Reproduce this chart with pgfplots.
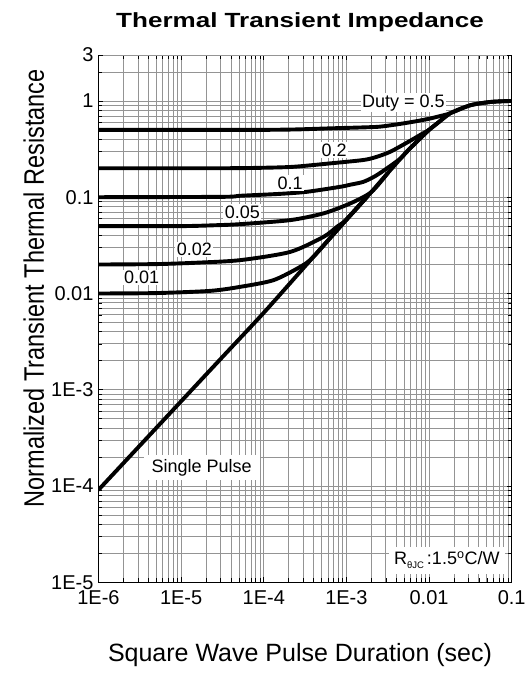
\documentclass[border=0pt]{standalone}
\usepackage{graphicx}
\usepackage{fontspec}
\setmainfont{Liberation Sans}
\usepackage{pgfplots}
\pgfplotsset{compat=1.18}
\tikzset{lbl/.style={fill=white, inner sep=1.5pt, font=\fontsize{18}{18}\selectfont},
         crv/.style={black, line width=3.9pt, line join=round, line cap=round, mark=none, smooth, tension=0.45}}
\begin{document}
\begin{tikzpicture}
\useasboundingbox (-98.5pt,-90.7pt) rectangle (432.5pt,582.3pt);
\begin{axis}[
  at={(0pt,0pt)}, anchor=south west,
  scale only axis, width=413.2pt, height=527.3pt,
  xmode=log, ymode=log,
  xmin=1e-6, xmax=0.1, ymin=1e-5, ymax=3,
  xtick={1e-6,1e-5,1e-4,1e-3,1e-2,1e-1},
  xticklabels={1E-6,1E-5,1E-4,1E-3,0.01,0.1},
  ytick={1e-5,1e-4,1e-3,1e-2,1e-1,1},
  yticklabels={1E-5,1E-4,1E-3,0.01,0.1,1},
  extra y ticks={3}, extra y tick labels={3},
  minor xtick={2e-6,3e-6,4e-6,5e-6,6e-6,7e-6,8e-6,9e-6,
               2e-5,3e-5,4e-5,5e-5,6e-5,7e-5,8e-5,9e-5,
               2e-4,3e-4,4e-4,5e-4,6e-4,7e-4,8e-4,9e-4,
               2e-3,3e-3,4e-3,5e-3,6e-3,7e-3,8e-3,9e-3,
               2e-2,3e-2,4e-2,5e-2,6e-2,7e-2,8e-2,9e-2},
  minor ytick={2e-5,3e-5,4e-5,5e-5,6e-5,7e-5,8e-5,9e-5,
               2e-4,3e-4,4e-4,5e-4,6e-4,7e-4,8e-4,9e-4,
               2e-3,3e-3,4e-3,5e-3,6e-3,7e-3,8e-3,9e-3,
               2e-2,3e-2,4e-2,5e-2,6e-2,7e-2,8e-2,9e-2,
               0.2,0.3,0.4,0.5,0.6,0.7,0.8,0.9,2},
  grid=both,
  major grid style={black!42, line width=0.7pt},
  minor grid style={black!42, line width=0.7pt},
  axis line style={black, line width=0.8pt},
  tick style={black, line width=0.6pt},
  major tick length=5pt, minor tick length=4pt,
  /pgf/number format/assume math mode=true,
  ticklabel style={font=\fontsize{20}{20}\selectfont},
  yticklabel style={xshift=-1.5pt},
  xticklabel style={yshift=-5pt},
]
% Single pulse
\addplot[crv] coordinates {(1e-6,9.12e-5) (3.162e-6,2.63e-4) (1e-5,7.59e-4) (3.162e-5,2.19e-3)
 (1e-4,6.31e-3) (3.162e-4,0.0192) (3.98e-4,0.0240) (1e-3,0.0585) (1.778e-3,0.101)
 (2.0e-3,0.113) (3.162e-3,0.178) (5.623e-3,0.309) (1e-2,0.501) (1.259e-2,0.586)
 (1.778e-2,0.741) (3.162e-2,0.902) (5.623e-2,0.977) (0.1,1.0)};
% D = 0.01
\addplot[crv] coordinates {(1e-6,0.01) (5.01e-6,0.0101) (2.24e-5,0.01064) (5.19e-5,0.01172)
 (1.306e-4,0.01374) (2.75e-4,0.01888) (3.98e-4,0.0240) (1e-3,0.0585) (1.778e-3,0.101)};
% D = 0.02
\addplot[crv] coordinates {(1e-6,0.02) (5.01e-6,0.0202) (1.585e-5,0.0209) (5.19e-5,0.0222)
 (2.08e-4,0.0270) (5.27e-4,0.0387) (7.66e-4,0.0492) (1e-3,0.0585) (1.778e-3,0.101)};
% D = 0.05
\addplot[crv] coordinates {(1e-6,0.05) (1e-5,0.0501) (2.51e-5,0.0511) (5.19e-5,0.0525)
 (2.08e-4,0.0578) (5.27e-4,0.0679) (1.109e-3,0.0861) (2.0e-3,0.113) (3.162e-3,0.178)};
% D = 0.1
\addplot[crv] coordinates {(1e-6,0.1) (3.162e-5,0.1009) (5.19e-5,0.1035) (1.585e-4,0.1084)
 (3.32e-4,0.1138) (8.4e-4,0.1282) (1.12e-3,0.135) (1.607e-3,0.1445) (2.24e-3,0.166)
 (3.08e-3,0.199) (4.47e-3,0.251) (5.623e-3,0.309) (1e-2,0.501)};
% D = 0.2
\addplot[crv] coordinates {(1e-6,0.2) (3.162e-5,0.2) (1e-4,0.2023) (2.29e-4,0.207)
 (6.31e-4,0.2244) (1.585e-3,0.2432) (2.24e-3,0.260) (3.39e-3,0.2965) (5.89e-3,0.385)
 (7.94e-3,0.447) (1e-2,0.501) (1.259e-2,0.586) (1.778e-2,0.741)};
% D = 0.5
\addplot[crv] coordinates {(1e-6,0.5) (1e-5,0.5) (1e-4,0.501) (2.51e-4,0.506) (6.31e-4,0.519)
 (1.585e-3,0.531) (2.51e-3,0.540) (3.98e-3,0.569) (6.46e-3,0.608) (1e-2,0.653)
 (1.259e-2,0.685) (1.778e-2,0.741) (3.162e-2,0.902) (5.623e-2,0.977) (0.1,1.0)};
% labels
\node[lbl] at (axis cs:4.9e-3,0.957) {Duty = 0.5};
\node[lbl] at (axis cs:7.1e-4,0.308) {0.2};
\node[lbl] at (axis cs:2.08e-4,0.141) {0.1};
\node[lbl] at (axis cs:5.5e-5,0.0705) {0.05};
\node[lbl] at (axis cs:1.45e-5,0.0287) {0.02};
\node[lbl] at (axis cs:3.33e-6,0.0147) {0.01};
\node[lbl, inner xsep=8pt, inner ysep=4pt] at (axis cs:1.77e-5,1.55e-4) {Single Pulse};
\node[lbl, inner xsep=5pt, inner ysep=5pt] at (axis cs:0.0164,1.69e-5) {R\raisebox{-0.45ex}{\fontsize{9.5}{9.5}\selectfont θJC}\,:1.5\textsuperscript{o}C/W};
\end{axis}
\node[anchor=base, font=\fontsize{20.5}{20.5}\selectfont\bfseries] at (201.5pt,555pt) {\scalebox{1.27}[1]{Thermal Transient Impedance}};
\node[anchor=base, font=\fontsize{25}{25}\selectfont] at (201.5pt,-79.4pt) {Square Wave Pulse Duration (sec)};
\node[anchor=base, rotate=90, font=\fontsize{23.5}{23.5}\selectfont] at (-54.5pt,294pt) {\scalebox{1}[1.2]{Normalized Transient Thermal Resistance}};
\end{tikzpicture}
\end{document}
